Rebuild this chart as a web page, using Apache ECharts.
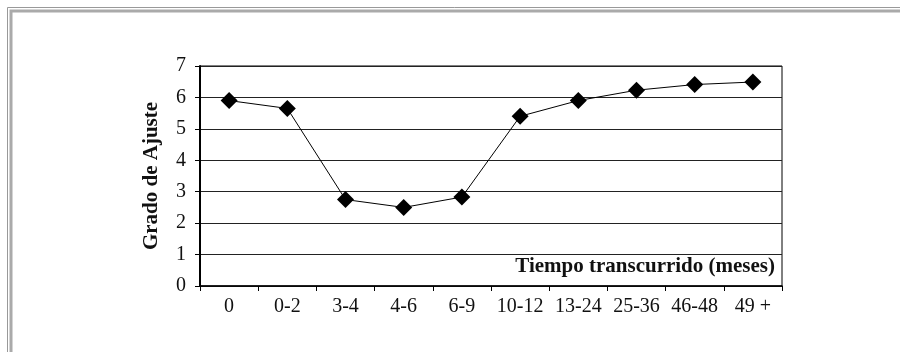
<!DOCTYPE html>
<html>
<head>
<meta charset="utf-8">
<script src="https://cdn.jsdelivr.net/npm/echarts@6/dist/echarts.min.js"></script>
<style>
  html, body { margin: 0; padding: 0; background: #fff; }
  #chart { width: 900px; height: 352px; }
</style>
</head>
<body>
<div id="chart"></div>
<script>
var categories = ["0", "0-2", "3-4", "4-6", "6-9", "10-12", "13-24", "25-36", "46-48", "49 +"];
var ajuste = [5.9, 5.65, 2.75, 2.5, 2.83, 5.4, 5.9, 6.23, 6.41, 6.49];
var yTicks = [0, 1, 2, 3, 4, 5, 6, 7];

var serif = "Liberation Serif";
var chart = echarts.init(document.getElementById("chart"));

var option = {
  backgroundColor: "#fff",
  animation: false,
  grid: {
    left: 200,
    top: 66,
    width: 582,
    height: 220,
    show: true,
    borderColor: "#000",
    borderWidth: 1,
    backgroundColor: "transparent"
  },
  // marco doble gris alrededor del gráfico
  graphic: [
    {
      type: "rect",
      shape: { x: 7.5, y: 7.5, width: 1000, height: 1000 },
      style: { fill: null, stroke: "#999", lineWidth: 1 }
    },
    {
      type: "rect",
      shape: { x: 11, y: 11, width: 1000, height: 1000 },
      style: { fill: null, stroke: "#aaa", lineWidth: 3 }
    },
    {
      type: "text",
      right: 125,
      top: 256,
      style: {
        text: "Tiempo transcurrido (meses)",
        font: "bold 21px '" + serif + "'",
        fill: "#111"
      }
    }
  ],
  xAxis: {
    type: "category",
    data: categories,
    boundaryGap: true,
    axisLine: { lineStyle: { color: "#000", width: 1.5 } },
    axisTick: { show: true, interval: 0, length: 5, lineStyle: { color: "#000" } },
    axisLabel: {
      interval: 0,
      hideOverlap: false,
      margin: 11,
      fontFamily: serif,
      fontSize: 20,
      color: "#111"
    },
    splitLine: { show: false }
  },
  yAxis: {
    type: "value",
    min: yTicks[0],
    max: yTicks[yTicks.length - 1],
    interval: 1,
    name: "Grado de Ajuste",
    nameLocation: "middle",
    nameGap: 38,
    nameRotate: 90,
    nameTextStyle: {
      fontFamily: serif,
      fontSize: 21,
      fontWeight: "bold",
      color: "#111"
    },
    axisLine: { show: true, lineStyle: { color: "#000", width: 2 } },
    axisTick: { show: true, length: 5, lineStyle: { color: "#000" } },
    axisLabel: {
      margin: 14,
      fontFamily: serif,
      fontSize: 20,
      color: "#111"
    },
    splitLine: { show: true, lineStyle: { color: "#222", width: 1 } }
  },
  series: [
    {
      type: "line",
      data: ajuste,
      symbol: "diamond",
      symbolSize: [17, 17],
      itemStyle: { color: "#000" },
      lineStyle: { color: "#000", width: 1 }
    }
  ]
};

chart.setOption(option);
</script>
</body>
</html>
